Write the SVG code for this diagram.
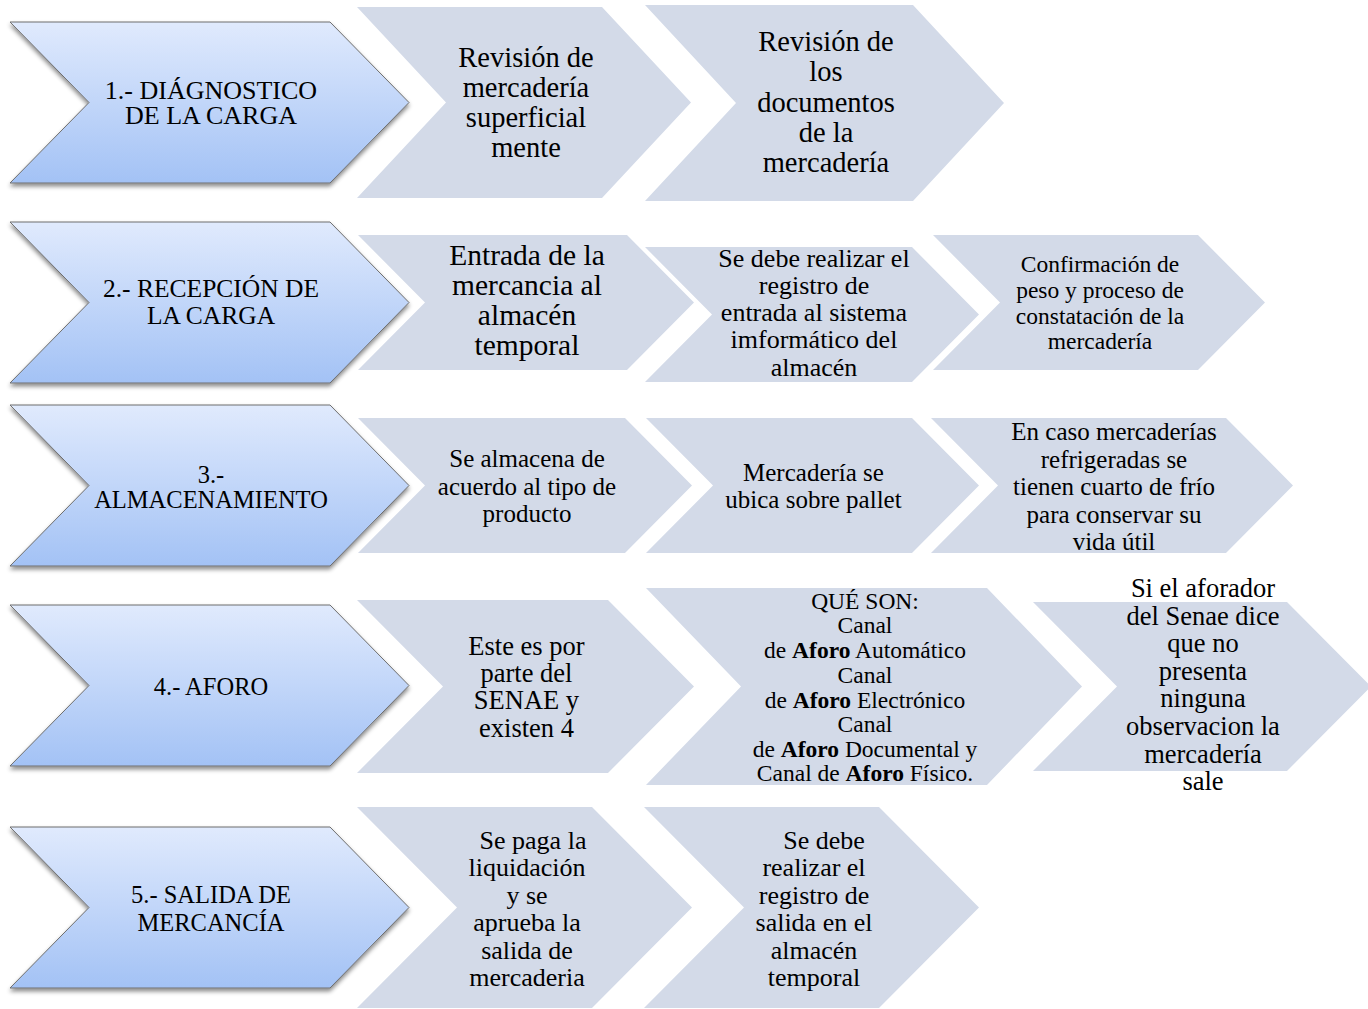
<svg xmlns="http://www.w3.org/2000/svg" width="1368" height="1009" viewBox="0 0 1368 1009">
<defs>
<linearGradient id="blue" x1="0" y1="0" x2="0" y2="1">
<stop offset="0" stop-color="#e0eafd"/>
<stop offset="1" stop-color="#a3c2f5"/>
</linearGradient>
<filter id="sh" x="-5%" y="-5%" width="110%" height="115%">
<feDropShadow dx="0" dy="3" stdDeviation="2" flood-color="#000" flood-opacity="0.45"/>
</filter>
<style>
.lt{fill:#d3dae8}
.bl{fill:url(#blue);stroke:#6e6e6e;stroke-width:1;filter:url(#sh)}
.t{fill:#000;text-anchor:middle}
</style>
</defs>
<rect width="1368" height="1009" fill="#fff"/>

<!-- Row 1 -->
<g id="r1a"><polygon class="lt" points="357,7 602,7 691,102.5 602,198 357,198 446,102.5"/>
<text class="t" font-family="Liberation Serif, DejaVu Serif, serif" font-size="28.5"><tspan x="526" y="67">Revisión de</tspan><tspan x="526" y="97">mercadería</tspan><tspan x="526" y="127">superficial</tspan><tspan x="526" y="157">mente</tspan></text></g>
<g id="r1b"><polygon class="lt" points="645,5 913,5 1004,103 913,201 645,201 736,103"/>
<text class="t" font-family="Liberation Serif, DejaVu Serif, serif" font-size="28.5"><tspan x="826" y="51">Revisión de</tspan><tspan x="826" y="81">los</tspan><tspan x="826" y="111.5">documentos</tspan><tspan x="826" y="142">de la</tspan><tspan x="826" y="172">mercadería</tspan></text></g>
<g id="n1"><polygon class="bl" points="10,22 330,22 409,102.5 330,183 10,183 89,102.5"/>
<text class="t" font-family="Liberation Serif, DejaVu Serif, serif" font-size="26"><tspan x="211" y="99">1.- DIÁGNOSTICO</tspan><tspan x="211" y="124">DE LA CARGA</tspan></text></g>

<!-- Row 2 -->
<g id="r2a"><polygon class="lt" points="358,235 627,235 694,302.5 627,370 358,370 425,302.5"/>
<text class="t" font-family="Liberation Serif, DejaVu Serif, serif" font-size="29.5"><tspan x="527" y="265">Entrada de la</tspan><tspan x="527" y="295">mercancia al</tspan><tspan x="527" y="325">almacén</tspan><tspan x="527" y="355">temporal</tspan></text></g>
<g id="r2b"><polygon class="lt" points="645,247 912,247 979,314.5 912,382 645,382 712,314.5"/>
<text class="t" font-family="Liberation Serif, DejaVu Serif, serif" font-size="26"><tspan x="814" y="267">Se debe realizar el</tspan><tspan x="814" y="294">registro de</tspan><tspan x="814" y="321">entrada al sistema</tspan><tspan x="814" y="348">imformático del</tspan><tspan x="814" y="376">almacén</tspan></text></g>
<g id="r2c"><polygon class="lt" points="933,235 1198,235 1265,302.5 1198,370 933,370 1000,302.5"/>
<text class="t" font-family="Liberation Serif, DejaVu Serif, serif" font-size="23.5"><tspan x="1100" y="272">Confirmación de</tspan><tspan x="1100" y="298">peso y proceso de</tspan><tspan x="1100" y="323.5">constatación de la</tspan><tspan x="1100" y="349">mercadería</tspan></text></g>
<g id="n2"><polygon class="bl" points="10,222 330,222 409,302.5 330,383 10,383 89,302.5"/>
<text class="t" font-family="Liberation Serif, DejaVu Serif, serif" font-size="25.5"><tspan x="211" y="297">2.- RECEPCIÓN DE</tspan><tspan x="211" y="324">LA CARGA</tspan></text></g>

<!-- Row 3 -->
<g id="r3a"><polygon class="lt" points="358,418 625,418 692,485.5 625,553 358,553 425,485.5"/>
<text class="t" font-family="Liberation Serif, DejaVu Serif, serif" font-size="25"><tspan x="527" y="467">Se almacena de</tspan><tspan x="527" y="495">acuerdo al tipo de</tspan><tspan x="527" y="522">producto</tspan></text></g>
<g id="r3b"><polygon class="lt" points="646,418 912,418 979,485.5 912,553 646,553 713,485.5"/>
<text class="t" font-family="Liberation Serif, DejaVu Serif, serif" font-size="25"><tspan x="813.5" y="481">Mercadería se</tspan><tspan x="813.5" y="508">ubica sobre pallet</tspan></text></g>
<g id="r3c"><polygon class="lt" points="931,418 1226,418 1293,485.5 1226,553 931,553 998,485.5"/>
<text class="t" font-family="Liberation Serif, DejaVu Serif, serif" font-size="25"><tspan x="1114" y="440">En caso mercaderías</tspan><tspan x="1114" y="468">refrigeradas se</tspan><tspan x="1114" y="495">tienen cuarto de frío</tspan><tspan x="1114" y="523">para conservar su</tspan><tspan x="1114" y="550">vida útil</tspan></text></g>
<g id="n3"><polygon class="bl" points="10,405 330,405 409,485.5 330,566 10,566 89,485.5"/>
<text class="t" font-family="Liberation Serif, DejaVu Serif, serif" font-size="24.5"><tspan x="211" y="483">3.-</tspan><tspan x="211" y="508">ALMACENAMIENTO</tspan></text></g>

<!-- Row 4 -->
<g id="r4a"><polygon class="lt" points="357,600 608,600 694,686.5 608,773 357,773 443,686.5"/>
<text class="t" font-family="Liberation Serif, DejaVu Serif, serif" font-size="26.5"><tspan x="526.5" y="655">Este es por</tspan><tspan x="526.5" y="682">parte del</tspan><tspan x="526.5" y="709">SENAE y</tspan><tspan x="526.5" y="737">existen 4</tspan></text></g>
<g id="r4b"><polygon class="lt" points="646,588 987,588 1082,686.5 987,785 646,785 741,686.5"/>
<text class="t" font-family="Liberation Serif, DejaVu Serif, serif" font-size="23.5"><tspan x="865" y="609">QUÉ SON:</tspan><tspan x="865" y="633">Canal</tspan><tspan x="865" y="658">de <tspan font-weight="bold">Aforo</tspan> Automático</tspan><tspan x="865" y="683">Canal</tspan><tspan x="865" y="708">de <tspan font-weight="bold">Aforo</tspan> Electrónico</tspan><tspan x="865" y="732">Canal</tspan><tspan x="865" y="757">de <tspan font-weight="bold">Aforo</tspan> Documental  y</tspan><tspan x="865" y="781">Canal de <tspan font-weight="bold">Aforo</tspan> Físico.</tspan></text></g>
<g id="r4c"><polygon class="lt" points="1033,602 1287,602 1371,686.5 1287,771 1033,771 1117,686.5"/>
<text class="t" font-family="Liberation Serif, DejaVu Serif, serif" font-size="26.5"><tspan x="1203" y="597">Si el aforador</tspan><tspan x="1203" y="625">del Senae dice</tspan><tspan x="1203" y="652">que no</tspan><tspan x="1203" y="680">presenta</tspan><tspan x="1203" y="707">ninguna</tspan><tspan x="1203" y="735">observacion la</tspan><tspan x="1203" y="763">mercadería</tspan><tspan x="1203" y="790">sale</tspan></text></g>
<g id="n4"><polygon class="bl" points="10,605 330,605 409,685.5 330,766 10,766 89,685.5"/>
<text class="t" font-family="Liberation Serif, DejaVu Serif, serif" font-size="24.5"><tspan x="211" y="695">4.- AFORO</tspan></text></g>

<!-- Row 5 -->
<g id="r5a"><polygon class="lt" points="357,807 592,807 692,907.5 592,1008 357,1008 457,907.5"/>
<text class="t" font-family="Liberation Serif, DejaVu Serif, serif" font-size="26"><tspan x="533" y="849">Se paga la</tspan><tspan x="527" y="876">liquidación</tspan><tspan x="527" y="904">y se</tspan><tspan x="527" y="931">aprueba la</tspan><tspan x="527" y="959">salida de</tspan><tspan x="527" y="986">mercaderia</tspan></text></g>
<g id="r5b"><polygon class="lt" points="644,807 879,807 979,907.5 879,1008 644,1008 744,907.5"/>
<text class="t" font-family="Liberation Serif, DejaVu Serif, serif" font-size="26"><tspan x="824" y="849">Se debe</tspan><tspan x="814" y="876">realizar el</tspan><tspan x="814" y="904">registro de</tspan><tspan x="814" y="931">salida en el</tspan><tspan x="814" y="959">almacén</tspan><tspan x="814" y="986">temporal</tspan></text></g>
<g id="n5"><polygon class="bl" points="10,827 330,827 409,907.5 330,988 10,988 89,907.5"/>
<text class="t" font-family="Liberation Serif, DejaVu Serif, serif" font-size="24.5"><tspan x="211" y="903">5.- SALIDA DE</tspan><tspan x="211" y="931">MERCANCÍA</tspan></text></g>
</svg>
